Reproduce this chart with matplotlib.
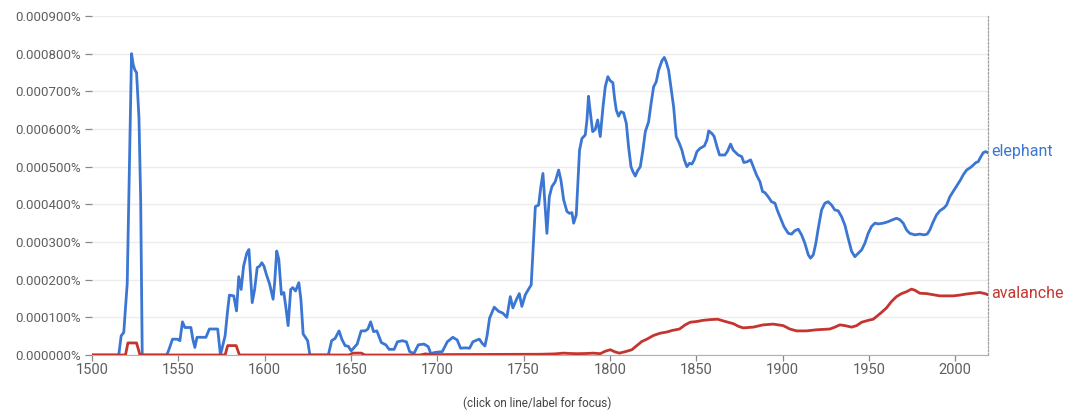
import numpy as np
import matplotlib
matplotlib.use("Agg")
import matplotlib.pyplot as plt
from matplotlib.ticker import FuncFormatter

plt.rcParams['font.family'] = ['Roboto', 'DejaVu Sans']

# values are in millionths of a percent (531 -> 0.000531%)
elephant_years = [
    1500, 1515.5, 1516.9, 1518.4, 1520.4, 1522, 1522.9, 1523.9, 1524.9, 1525.8, 1527.2, 1528.2, 1529.1,
    1543.3, 1544.7, 1546.6, 1549.5, 1550.9, 1552.4, 1553.8, 1557.3, 1558.4, 1559.6, 1560.8, 1566, 1568,
    1572.8, 1574.4, 1575.7, 1577.1, 1578.6, 1579.6, 1582.1, 1583.7, 1585, 1586.4, 1587.8, 1589.7, 1590.9,
    1592.8, 1594.2, 1595.7, 1597.1, 1598.4, 1599.6, 1601, 1602.9, 1604.9, 1605.8, 1607, 1608.2, 1609.7,
    1611.1, 1612.2, 1613.6, 1615.1, 1616.3, 1617.9, 1619.8, 1621, 1622.3, 1624.9, 1626.2, 1636.9, 1638.8,
    1640.8, 1643.1, 1644.7, 1646.6, 1648.5, 1650.1, 1651.5, 1653.6, 1655.9, 1658.3, 1659.8, 1661.4, 1663.1,
    1665, 1667.6, 1670.2, 1672.1, 1675, 1676.9, 1679.8, 1682.1, 1684, 1686.5, 1689, 1692.3, 1694.8, 1696.2,
    1699, 1702.9, 1705.8, 1709, 1711.5, 1713.5, 1716.3, 1718.7, 1720.6, 1723.1, 1724.4, 1726, 1727.6,
    1728.8, 1730.3, 1733, 1735.5, 1738, 1740.3, 1742.3, 1743.8, 1745.8, 1747.5, 1749, 1751, 1752.9, 1754.4,
    1755.8, 1756.8, 1758.7, 1760, 1761.2, 1762.2, 1763.5, 1764.9, 1766.4, 1768.3, 1770.3, 1771.6, 1773.2,
    1775.1, 1776.6, 1778, 1779, 1780.5, 1781.5, 1782.4, 1783.8, 1785.7, 1786.7, 1787.6, 1788.6, 1790,
    1791.5, 1792.9, 1794.4, 1796, 1797.3, 1798.8, 1800.2, 1801.7, 1802.7, 1803.7, 1805, 1806.4, 1807.9,
    1809.5, 1810.8, 1812.2, 1813.3, 1814.7, 1816, 1817.6, 1819.1, 1820.5, 1822.4, 1823.7, 1825.3, 1826.8,
    1828.2, 1830.1, 1831.5, 1832.6, 1834, 1835.3, 1836.9, 1838.4, 1840.2, 1841.7, 1843.1, 1844.6, 1846.1,
    1847.5, 1848.8, 1850.4, 1852.3, 1854.7, 1856.2, 1857.2, 1859.1, 1860.4, 1862, 1863.5, 1866.6, 1868,
    1869.9, 1871.4, 1874.3, 1876.3, 1877.6, 1879.5, 1881.5, 1883, 1884.9, 1886.9, 1888.4, 1889.8, 1891.7,
    1893.6, 1895.6, 1896.9, 1898.5, 1900.8, 1903.3, 1905.2, 1907.1, 1909.1, 1911, 1912.9, 1914.9, 1916.2,
    1917.8, 1919.3, 1920.7, 1922.6, 1924.5, 1926.4, 1928.4, 1930.3, 1932.2, 1934.2, 1936.1, 1938, 1940,
    1941.9, 1943.8, 1945.8, 1947.7, 1949.6, 1951.5, 1953.5, 1955.4, 1958.3, 1961.2, 1963.7, 1966, 1968,
    1969.9, 1971.8, 1973.7, 1976.6, 1979.5, 1981.9, 1983.8, 1985.3, 1987.3, 1989.2, 1991.1, 1993.4, 1995,
    1996.9, 1998.8, 2001.2, 2003.1, 2004.6, 2006.6, 2008.9, 2010.4, 2012, 2013.3, 2014.7, 2016.2, 2017.6,
    2019,
]
elephant_vals = [
    0, 0, 51, 60, 190, 590, 800, 770, 756, 750, 630, 410, 0,
    0, 16, 42, 42, 38, 88, 73, 73, 42, 20, 47, 47, 69,
    69, 0, 25, 51, 120, 159, 157, 117, 208, 174, 236, 271, 280,
    139, 174, 232, 236, 245, 236, 214, 188, 148, 192, 276, 254, 161,
    166, 130, 78, 174, 179, 170, 192, 148, 56, 38, 0, 0, 38,
    44, 64, 42, 25, 23, 11, 18, 29, 64, 64, 69, 88, 62,
    64, 33, 27, 15, 15, 35, 38, 35, 9, 4, 27, 29, 22, 4,
    7, 9, 35, 47, 40, 18, 19, 18, 35, 40, 42, 31, 24,
    50, 98, 127, 116, 111, 100, 155, 125, 147, 163, 129, 160, 175, 186,
    306, 394, 398, 447, 482, 412, 323, 420, 447, 460, 491, 465, 412,
    381, 376, 378, 350, 372, 465, 544, 575, 584, 624, 687, 646, 593,
    599, 624, 580, 659, 712, 739, 728, 723, 681, 650, 634, 646, 643,
    615, 553, 500, 487, 475, 489, 500, 544, 593, 619, 663, 712, 725,
    756, 781, 790, 778, 756, 712, 659, 580, 562, 544, 518, 500, 509,
    507, 518, 540, 549, 555, 571, 595, 588, 580, 553, 531, 531, 540,
    560, 544, 531, 527, 511, 513, 518, 500, 478, 460, 434, 431, 420,
    407, 403, 385, 367, 341, 323, 321, 330, 334, 319, 297, 266, 257,
    266, 297, 337, 385, 403, 407, 398, 385, 383, 367, 345, 310, 275,
    261, 270, 279, 297, 323, 341, 350, 348, 350, 354, 359, 363, 359,
    350, 332, 323, 319, 321, 319, 321, 332, 354, 372, 383, 390, 398,
    420, 434, 451, 465, 478, 491, 498, 504, 511, 513, 525, 537, 540,
    537,
]

avalanche_years = [
    1500, 1519.4, 1520.8, 1525.8, 1527.8, 1577.1, 1578.6, 1583.5, 1585.4, 1649, 1651, 1656, 1658,
    1690, 1693, 1697, 1760, 1768, 1773, 1777, 1780.9, 1786, 1790.5, 1794.4, 1797.3, 1800.2, 1803.1,
    1805.6, 1809.8, 1812.7, 1815.6, 1818.5, 1821.4, 1825.3, 1829.2, 1833, 1835.9, 1840.3, 1843.6,
    1846.5, 1850.4, 1853.9, 1858.1, 1862.4, 1866.8, 1871.6, 1874.5, 1877.2, 1883, 1888.8, 1894.6,
    1900.4, 1904.2, 1908.1, 1913.9, 1919.7, 1927.4, 1930.3, 1933.2, 1936.1, 1940, 1942.9, 1945.8,
    1949.6, 1952.5, 1954.4, 1957.3, 1960.2, 1963.1, 1966, 1968.9, 1971.8, 1974.7, 1976.6, 1979.5,
    1983.4, 1987.3, 1991.1, 1995, 1998.8, 2002.7, 2006.6, 2010.4, 2014.3, 2017.2, 2019,
]
avalanche_vals = [
    0, 0, 32, 32, 0, 0, 25, 25, 0, 0, 5, 5, 0,
    0, 3, 1, 2, 3, 5, 4, 3.5, 4, 5, 3.5, 10, 14, 8,
    5, 10, 14, 25, 36, 42, 52, 58, 61, 65, 69, 80,
    87, 89, 92, 94, 95, 89, 83, 76, 72, 74, 80, 82,
    78, 69, 64, 64, 67, 69, 74, 80, 78, 74, 78, 87,
    92, 95, 102, 113, 125, 142, 155, 163, 168, 175, 172, 164,
    163, 160, 157, 157, 157, 159, 162, 164, 166, 163, 160,
]

series_names = ['elephant', 'avalanche']
series_colors = ['#3a76d2', '#c5352f']
yticks = np.arange(0, 901, 100) * 1e-6
xticks = np.arange(1500, 2001, 50)

fig = plt.figure(figsize=(10.74, 4.15), dpi=100)
ax = fig.add_axes([92 / 1074, 1 - 355 / 415, (988 - 92) / 1074, (355 - 16) / 415])

ax.plot(elephant_years, np.array(elephant_vals) * 1e-6, color=series_colors[0], lw=2.0,
        solid_joinstyle='round', zorder=3)
ax.plot(avalanche_years, np.array(avalanche_vals) * 1e-6, color=series_colors[1], lw=2.0,
        solid_joinstyle='round', zorder=4)

# series labels at the right end
for name, yrs, vals, c in [(series_names[0], elephant_years, elephant_vals, series_colors[0]),
                           (series_names[1], avalanche_years, avalanche_vals, series_colors[1])]:
    ax.annotate(name, xy=(yrs[-1], vals[-1] * 1e-6), xytext=(2, 1), textcoords='offset points',
                color=c, fontsize=11.5, va='center', ha='left', annotation_clip=False)

ax.set_xlim(1500, 2019)
ax.set_ylim(0, 0.0009)
ax.set_yticks(yticks)
ax.set_xticks(xticks)
ax.yaxis.set_major_formatter(FuncFormatter(lambda v, p: f'{v:.6f}%'))
ax.xaxis.set_major_formatter(FuncFormatter(lambda v, p: f'{int(round(v))}'))

ax.grid(axis='y', color='#ececec', lw=1)
ax.set_axisbelow(True)
for s in ['top', 'left']:
    ax.spines[s].set_visible(False)
ax.spines['bottom'].set_color('#b0b0b0')
ax.spines['right'].set_color('#a0a0a0')
ax.spines['right'].set_linestyle((0, (1.5, 1.5)))
ax.spines['right'].set_linewidth(0.9)

ax.tick_params(axis='y', length=5, width=0.9, color='#888888', labelcolor='#5f5f5f',
               labelsize=9.5, pad=3)
ax.tick_params(axis='x', length=4, width=0.9, color='#888888', labelcolor='#5f5f5f',
               labelsize=10.5, pad=2)

fig.text(0.5, 1 - 403 / 415, '(click on line/label for focus)', ha='center', va='center',
         fontsize=8.5, color='#444444')

fig.savefig('out.png', dpi=100)
